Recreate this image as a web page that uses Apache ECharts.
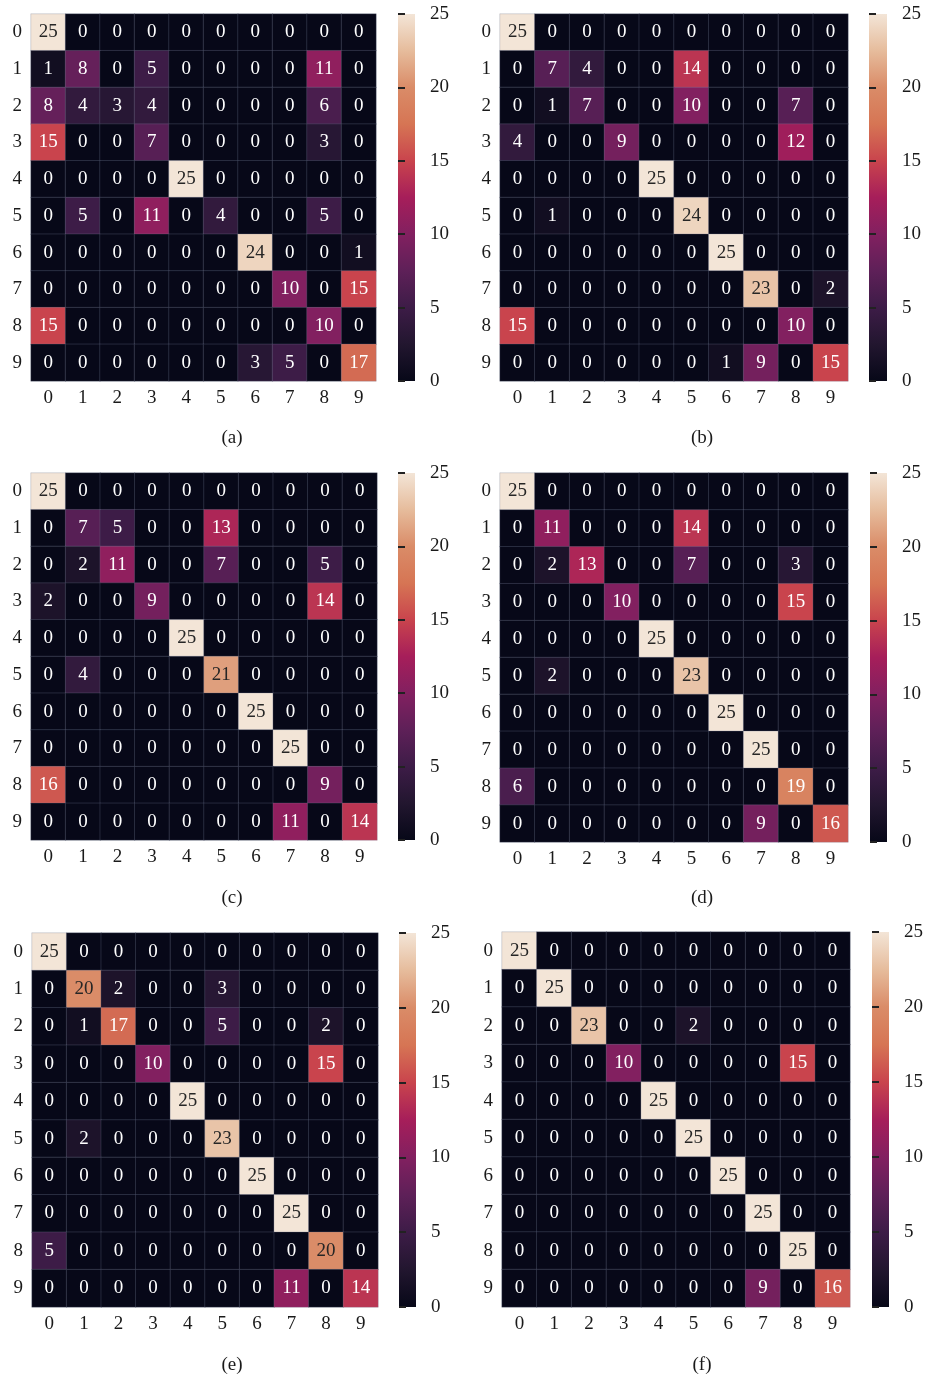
<!DOCTYPE html>
<html>
<head>
<meta charset="utf-8">
<script src="https://cdn.jsdelivr.net/npm/echarts@6/dist/echarts.min.js"></script>
<style>
html,body{margin:0;padding:0;background:#fff;}
#chart{width:929px;height:1378px;}
</style>
</head>
<body>
<div id="chart"></div>
<script>
// ---- Data ----
const classLabels = ['0','1','2','3','4','5','6','7','8','9'];
const panelCaptions = ['(a)','(b)','(c)','(d)','(e)','(f)'];
const colorbarTicks = [0, 5, 10, 15, 20, 25];

const matrixA = [
  [25,0,0,0,0,0,0,0,0,0],
  [1,8,0,5,0,0,0,0,11,0],
  [8,4,3,4,0,0,0,0,6,0],
  [15,0,0,7,0,0,0,0,3,0],
  [0,0,0,0,25,0,0,0,0,0],
  [0,5,0,11,0,4,0,0,5,0],
  [0,0,0,0,0,0,24,0,0,1],
  [0,0,0,0,0,0,0,10,0,15],
  [15,0,0,0,0,0,0,0,10,0],
  [0,0,0,0,0,0,3,5,0,17]
];
const matrixB = [
  [25,0,0,0,0,0,0,0,0,0],
  [0,7,4,0,0,14,0,0,0,0],
  [0,1,7,0,0,10,0,0,7,0],
  [4,0,0,9,0,0,0,0,12,0],
  [0,0,0,0,25,0,0,0,0,0],
  [0,1,0,0,0,24,0,0,0,0],
  [0,0,0,0,0,0,25,0,0,0],
  [0,0,0,0,0,0,0,23,0,2],
  [15,0,0,0,0,0,0,0,10,0],
  [0,0,0,0,0,0,1,9,0,15]
];
const matrixC = [
  [25,0,0,0,0,0,0,0,0,0],
  [0,7,5,0,0,13,0,0,0,0],
  [0,2,11,0,0,7,0,0,5,0],
  [2,0,0,9,0,0,0,0,14,0],
  [0,0,0,0,25,0,0,0,0,0],
  [0,4,0,0,0,21,0,0,0,0],
  [0,0,0,0,0,0,25,0,0,0],
  [0,0,0,0,0,0,0,25,0,0],
  [16,0,0,0,0,0,0,0,9,0],
  [0,0,0,0,0,0,0,11,0,14]
];
const matrixD = [
  [25,0,0,0,0,0,0,0,0,0],
  [0,11,0,0,0,14,0,0,0,0],
  [0,2,13,0,0,7,0,0,3,0],
  [0,0,0,10,0,0,0,0,15,0],
  [0,0,0,0,25,0,0,0,0,0],
  [0,2,0,0,0,23,0,0,0,0],
  [0,0,0,0,0,0,25,0,0,0],
  [0,0,0,0,0,0,0,25,0,0],
  [6,0,0,0,0,0,0,0,19,0],
  [0,0,0,0,0,0,0,9,0,16]
];
const matrixE = [
  [25,0,0,0,0,0,0,0,0,0],
  [0,20,2,0,0,3,0,0,0,0],
  [0,1,17,0,0,5,0,0,2,0],
  [0,0,0,10,0,0,0,0,15,0],
  [0,0,0,0,25,0,0,0,0,0],
  [0,2,0,0,0,23,0,0,0,0],
  [0,0,0,0,0,0,25,0,0,0],
  [0,0,0,0,0,0,0,25,0,0],
  [5,0,0,0,0,0,0,0,20,0],
  [0,0,0,0,0,0,0,11,0,14]
];
const matrixF = [
  [25,0,0,0,0,0,0,0,0,0],
  [0,25,0,0,0,0,0,0,0,0],
  [0,0,23,0,0,2,0,0,0,0],
  [0,0,0,10,0,0,0,0,15,0],
  [0,0,0,0,25,0,0,0,0,0],
  [0,0,0,0,0,25,0,0,0,0],
  [0,0,0,0,0,0,25,0,0,0],
  [0,0,0,0,0,0,0,25,0,0],
  [0,0,0,0,0,0,0,0,25,0],
  [0,0,0,0,0,0,0,9,0,16]
];
const matrices = [matrixA, matrixB, matrixC, matrixD, matrixE, matrixF];

// ---- Styling / layout ----
const FONT = '"Liberation Serif", "DejaVu Serif", serif';
const FS = 19;
const rocketColors = ['#070818','#22162f','#3d1c47','#5e2058','#822060','#a61e5a',
                      '#c9444d','#d67554','#da8c68','#e6bc9c','#f3e5d7'];

const layouts = [
  {hx:31,  hy:14,  hw:345, hh:367, cx:398, cw:17, capX:232, capY:429},
  {hx:500, hy:14,  hw:348, hh:367, cx:869, cw:18, capX:702, capY:429},
  {hx:31,  hy:473, hw:346, hh:367, cx:398, cw:17, capX:232, capY:889},
  {hx:500, hy:473, hw:348, hh:369, cx:870, cw:17, capX:702, capY:889},
  {hx:32,  hy:933, hw:346, hh:374, cx:399, cw:17, capX:232, capY:1356},
  {hx:502, hy:932, hw:348, hh:375, cx:872, cw:17, capX:702, capY:1356}
];

const grids = [], xAxes = [], yAxes = [], series = [], graphics = [];
const gradientStops = rocketColors.map((c, i) => ({offset: 1 - i / (rocketColors.length - 1), color: c}))
  .sort((a, b) => a.offset - b.offset);

layouts.forEach((L, p) => {
  grids.push({left: L.hx, top: L.hy, width: L.hw, height: L.hh, containLabel: false});
  xAxes.push({
    type: 'category', gridIndex: 2*p, data: classLabels, position: 'bottom',
    axisLine: {show: false}, axisTick: {show: false}, splitArea: {show: false},
    axisLabel: {fontFamily: FONT, fontSize: FS, color: '#1a1a1a', margin: 8}
  });
  yAxes.push({
    type: 'category', gridIndex: 2*p, data: classLabels, inverse: true,
    axisLine: {show: false}, axisTick: {show: false}, splitArea: {show: false},
    axisLabel: {fontFamily: FONT, fontSize: FS, color: '#1a1a1a', margin: 9}
  });
  grids.push({
    left: L.cx, top: L.hy, width: L.cw, height: L.hh, show: true, borderWidth: 0,
    backgroundColor: {type: 'linear', x: 0, y: 0, x2: 0, y2: 1, colorStops: gradientStops}
  });
  xAxes.push({type: 'value', gridIndex: 2*p+1, show: false, min: 0, max: 1});
  yAxes.push({
    type: 'value', gridIndex: 2*p+1, position: 'right', min: colorbarTicks[0],
    max: colorbarTicks[colorbarTicks.length-1], interval: 5,
    axisLine: {show: false},
    axisTick: {show: true, length: 7, lineStyle: {color: '#222', width: 2}},
    splitLine: {show: false},
    axisLabel: {fontFamily: FONT, fontSize: FS, color: '#1a1a1a', margin: 15}
  });

  const m = matrices[p];
  const data = [];
  m.forEach((row, r) => row.forEach((v, c) => {
    data.push({value: [c, r, v], label: {color: v >= 20 ? '#262626' : '#ffffff'}});
  }));
  series.push({
    type: 'heatmap', xAxisIndex: 2*p, yAxisIndex: 2*p, data: data,
    label: {show: true, fontFamily: FONT, fontSize: FS},
    itemStyle: {borderColor: 'rgba(120,125,150,0.28)', borderWidth: 1},
    emphasis: {disabled: true}
  });
  graphics.push({
    type: 'text', x: L.capX, y: L.capY,
    style: {text: panelCaptions[p], font: FS + 'px ' + FONT, fill: '#1a1a1a', textAlign: 'center', textVerticalAlign: 'top'}
  });
});

const chart = echarts.init(document.getElementById('chart'), null, {renderer: 'canvas'});
chart.setOption({
  backgroundColor: '#ffffff',
  animation: false,
  grid: grids,
  xAxis: xAxes,
  yAxis: yAxes,
  graphic: graphics,
  visualMap: {
    show: false, type: 'continuous', min: 0, max: 25,
    seriesIndex: [0,1,2,3,4,5], dimension: 2,
    inRange: {color: rocketColors}
  },
  series: series
});
</script>
</body>
</html>
